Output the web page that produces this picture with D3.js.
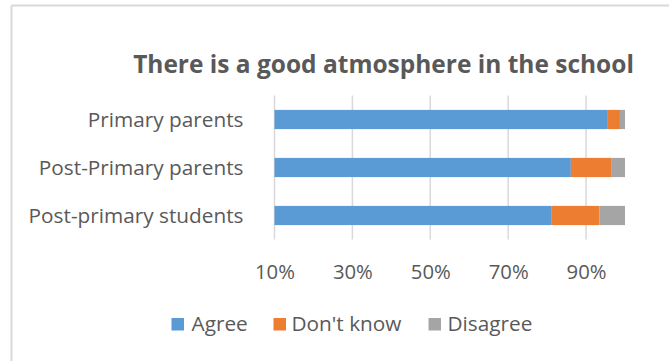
<!DOCTYPE html>
<html>
<head>
<meta charset="utf-8">
<script src="https://cdn.jsdelivr.net/npm/d3@7"></script>
<style>
  html, body { margin: 0; padding: 0; background: #fff; }
  svg { display: block; }
  text { font-family: "Open Sans", "Noto Sans", sans-serif; fill: #595959; }
</style>
</head>
<body>
<svg id="chart" width="669" height="361"></svg>
<script>
// Survey responses (share of respondents)
const categories = ["Primary parents", "Post-Primary parents", "Post-primary students"];
const seriesNames = ["Agree", "Don't know", "Disagree"];
const agree    = [0.954, 0.861, 0.812];
const dontKnow = [0.033, 0.105, 0.122];
const disagree = [0.013, 0.034, 0.066];
const tickValues = [0.1, 0.3, 0.5, 0.7, 0.9];
const colors = ["#5b9bd5", "#ed7d31", "#a5a5a5"];
const title = "There is a good atmosphere in the school";

const svg = d3.select("#chart");
const W = 669, H = 361;

// Chart frame: only the top and left edges fall inside the view
svg.append("line").attr("x1", 11.5).attr("x2", W).attr("y1", 5.5).attr("y2", 5.5)
  .attr("stroke", "#d9d9d9").attr("stroke-width", 2);
svg.append("line").attr("x1", 11.5).attr("x2", 11.5).attr("y1", 5.5).attr("y2", H)
  .attr("stroke", "#d9d9d9").attr("stroke-width", 2);

// Scale a text element's font size so it spans the given width
function fit(sel, width) {
  const base = parseFloat(sel.attr("font-size"));
  const w = sel.node().getComputedTextLength();
  const size = base * width / w;
  sel.attr("font-size", size);
  return size;
}

// Title
const t = svg.append("text").attr("x", 383.5).attr("y", 73)
  .attr("text-anchor", "middle").attr("font-weight", 700).attr("font-size", 20)
  .text(title);
fit(t, 501);

const x = d3.scaleLinear().domain([0.1, 1.0]).range([274.5, 625]);
const y = d3.scaleBand().domain(categories).range([95.5, 239.5])
  .paddingInner(0.6).paddingOuter(0.3);

// Vertical gridlines
svg.append("g").selectAll("line").data(tickValues).join("line")
  .attr("x1", d => x(d)).attr("x2", d => x(d))
  .attr("y1", 95.5).attr("y2", 239.5)
  .attr("stroke", "#d9d9d9").attr("stroke-width", 1.5);

// Stacked bars
const rows = categories.map((c, i) => ({ cat: c, "Agree": agree[i], "Don't know": dontKnow[i], "Disagree": disagree[i] }));
const stacked = d3.stack().keys(seriesNames)(rows);
svg.append("g").selectAll("g").data(stacked).join("g")
  .attr("fill", (d, i) => colors[i])
  .selectAll("rect").data(d => d).join("rect")
  .attr("x", d => x(Math.max(d[0], 0.1)))
  .attr("width", d => Math.max(0, x(d[1]) - x(Math.max(d[0], 0.1))))
  .attr("y", d => y(d.data.cat))
  .attr("height", y.bandwidth());

// Category axis labels
const labelSize = (() => {
  const probe = svg.append("text").attr("font-size", 18).text(categories[2]);
  const s = fit(probe, 215);
  probe.remove();
  return s;
})();
svg.append("g").selectAll("text").data(categories).join("text")
  .attr("x", 243.5).attr("y", d => y(d) + y.bandwidth() / 2)
  .attr("dy", "0.35em").attr("text-anchor", "end")
  .attr("font-size", labelSize).text(d => d);

// Value axis
const xAxis = d3.axisBottom(x).tickValues(tickValues).tickFormat(d3.format(".0%")).tickSize(0).tickPadding(0);
const ax = svg.append("g").attr("transform", "translate(0,260)").call(xAxis);
ax.select(".domain").remove();
const tickSize = (() => {
  const probe = svg.append("text").attr("font-size", 18).text("10%");
  const s = fit(probe, 40);
  probe.remove();
  return s;
})();
ax.selectAll("text").attr("font-size", tickSize).attr("font-family", null)
  .attr("fill", "#595959").attr("dy", null).attr("y", 18.5);

// Legend
const legendX = [171.5, 273.5, 428.5];
const legendTextX = [191.5, 291.5, 447.5];
const lg = svg.append("g");
seriesNames.forEach((name, i) => {
  lg.append("rect").attr("x", legendX[i]).attr("y", 318).attr("width", 12.5).attr("height", 12.5)
    .attr("fill", colors[i]);
});
const legendSize = (() => {
  const probe = svg.append("text").attr("font-size", 18).text("Don't know");
  const s = fit(probe, 110);
  probe.remove();
  return s;
})();
lg.selectAll("text").data(seriesNames).join("text")
  .attr("x", (d, i) => legendTextX[i]).attr("y", 330.5)
  .attr("font-size", legendSize).text(d => d);
</script>
</body>
</html>
